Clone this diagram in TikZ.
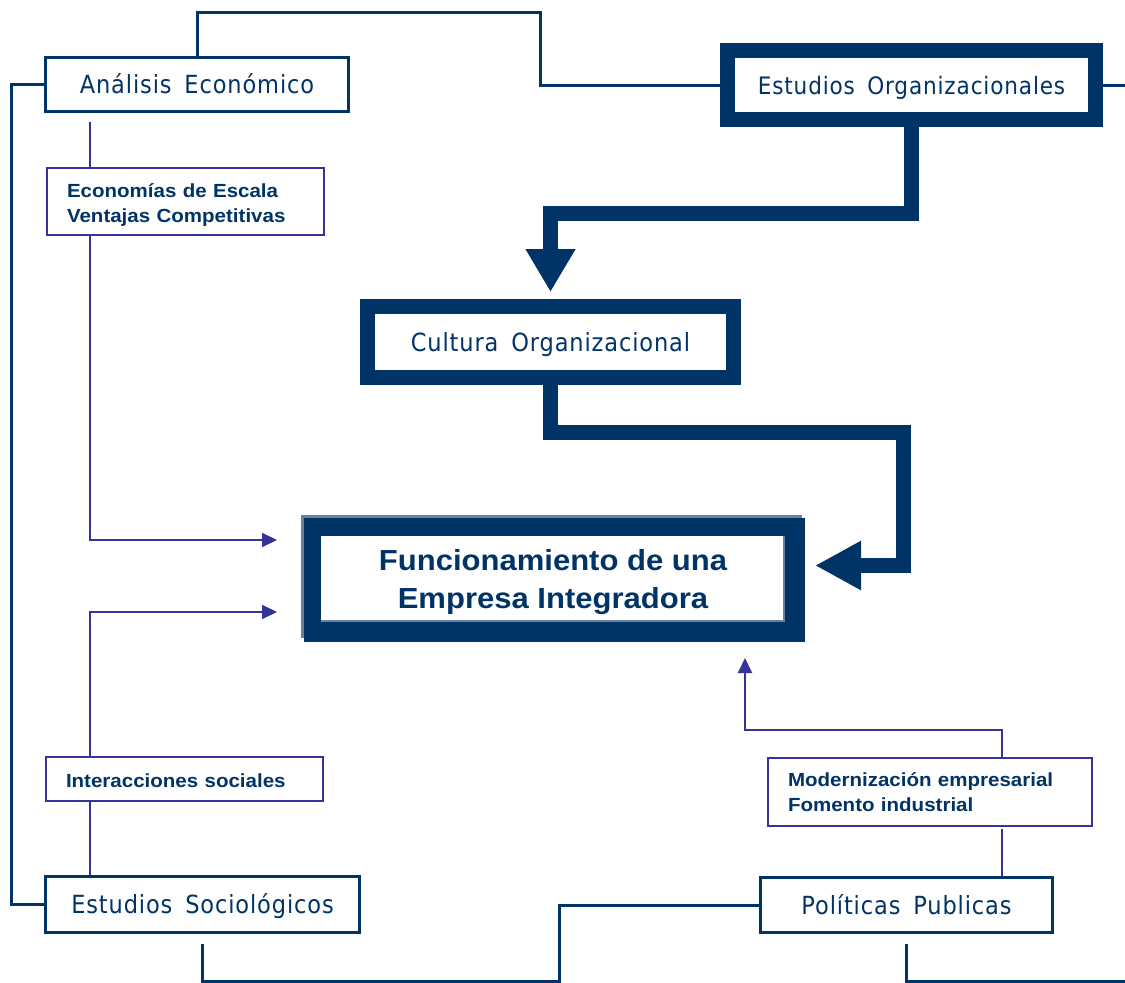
\documentclass[tikz,border=0pt]{standalone}
\usepackage{fontspec}
\usetikzlibrary{arrows.meta,backgrounds}

% faces for the box titles and the bold notes
\newfontfamily\boxfont[FakeStretch=0.9,LetterSpace=3.5,WordSpace=1.6]{DejaVu Sans}
\newfontfamily\notefont[FakeStretch=1.08]{Liberation Sans}
\newfontfamily\headfont[FakeStretch=1.07]{Liberation Sans}

\definecolor{navy}{RGB}{0,51,102}
\definecolor{purp}{RGB}{51,51,153}
\definecolor{steel}{RGB}{105,128,160}

\tikzset{
  plainbox/.style={draw=navy, line width=3pt, fill=white, inner sep=0pt,
    font=\boxfont\fontsize{25}{30}\selectfont, text=navy,
    text height=18pt, text depth=0pt},
  heavybox/.style={plainbox, line width=15pt},
  notebox/.style={draw=purp, line width=2pt, fill=white, inner xsep=20pt, inner ysep=0pt,
    align=left, font=\notefont\bfseries\fontsize{19}{25}\selectfont, text=navy},
  centralbox/.style={fill=white, inner sep=0pt, align=center,
    font=\headfont\bfseries\fontsize{29}{38}\selectfont, text=navy},
  link/.style={draw=navy, line width=3pt},
  heavylink/.style={draw=navy, line width=15pt, line join=miter},
  feed/.style={draw=purp, line width=2pt},
  feedtip/.style={-{Triangle[width=14pt,length=15pt]}},
}

\begin{document}
\begin{tikzpicture}[x=1pt, y=-1pt]
\useasboundingbox (0,0) rectangle (1125,983);

% main boxes
\node[plainbox, minimum width=303, minimum height=54] (ae) at (197,84) {Análisis Económico};
\node[heavybox, minimum width=368, minimum height=69, font=\boxfont\fontsize{24}{30}\selectfont] (eo) at (911.5,85) {Estudios Organizacionales};
\node[heavybox, minimum width=366, minimum height=71] (co) at (550.5,342) {Cultura Organizacional};
\node[plainbox, minimum width=314, minimum height=56] (es) at (202.5,904.5) {Estudios Sociológicos};
\node[plainbox, minimum width=292, minimum height=55] (pp) at (906.5,905) {Políticas Publicas};

% central box with its framed border
\node[centralbox, minimum width=464, minimum height=86] (fi) at (553,579) {\rule{0pt}{27pt}Funcionamiento de una\\Empresa Integradora};
\begin{scope}[on background layer]
  \fill[steel] ([shift={(-20,-21)}]fi.north west) rectangle ([shift={(17,16)}]fi.south east);
  \fill[navy] ([shift={(-17,-18)}]fi.north west) rectangle ([shift={(20,20)}]fi.south east);
\end{scope}
\draw[steel, line width=2pt] ([shift={(-1,0)}]fi.north east) -- ([shift={(-1,-1)}]fi.south east) -- ([shift={(0,-1)}]fi.south west);

% note boxes
\node[notebox, text width=237, minimum height=67] (ec) at (185.5,201.5) {\rule{0pt}{20pt}Economías de Escala\\Ventajas Competitivas};
\node[notebox, text width=237, minimum height=44] (ic) at (184.5,779) {\rule{0pt}{17pt}Interacciones sociales};
\node[notebox, text width=284, minimum height=68] (me) at (930,792) {Modernización empresarial\\Fomento industrial};

% helper points
\coordinate (xl) at (90,0);
\coordinate (xr) at (1002,0);
\coordinate (edge) at (1125,0);
\coordinate (ta) at (277,540);
\coordinate (tb) at (277,612);
\coordinate (tc) at (745,658);
\coordinate (tf) at (815,565.5);
\coordinate (ppR) at (1125,981);
\coordinate (aeS) at ([yshift=-9pt]ae.south);
\coordinate (meS) at ([yshift=-2pt]me.south);
\coordinate (esS) at ([yshift=-10pt]es.south);
\coordinate (ppS) at ([yshift=-10pt]pp.south);

% outer frame of thin navy links
\draw[link] (ae.north) |- (540,12) |- (eo.west);
\draw[link] (eo.east) -- (eo.east -| edge);
\draw[link] (ae.west) -| (11,500) |- (es.west);
\draw[link] (esS) |- (559,981) |- (pp.west);
\draw[link] (ppS) |- (ppR);

% heavy arrows
\draw[heavylink, -{Triangle[width=47pt,length=43pt]}] (eo.south) |- (550.5,213.5) -- ([yshift=7pt]co.north);
\draw[heavylink, -{Triangle[width=46pt,length=46pt]}] (co.south) |- (903,432) |- (tf);

% thin feeds into the central box
\draw[feed] (aeS -| xl) -- (ec.north -| xl);
\draw[feed, feedtip] (ec.south -| xl) |- (ta);
\draw[feed] (es.north -| xl) -- (ic.south -| xl);
\draw[feed, feedtip] (ic.north -| xl) |- (tb);
\draw[feed] (meS -| xr) -- (pp.north -| xr);
\draw[feed, feedtip] (me.north -| xr) -- (1002,730) -| (tc);
\end{tikzpicture}
\end{document}
